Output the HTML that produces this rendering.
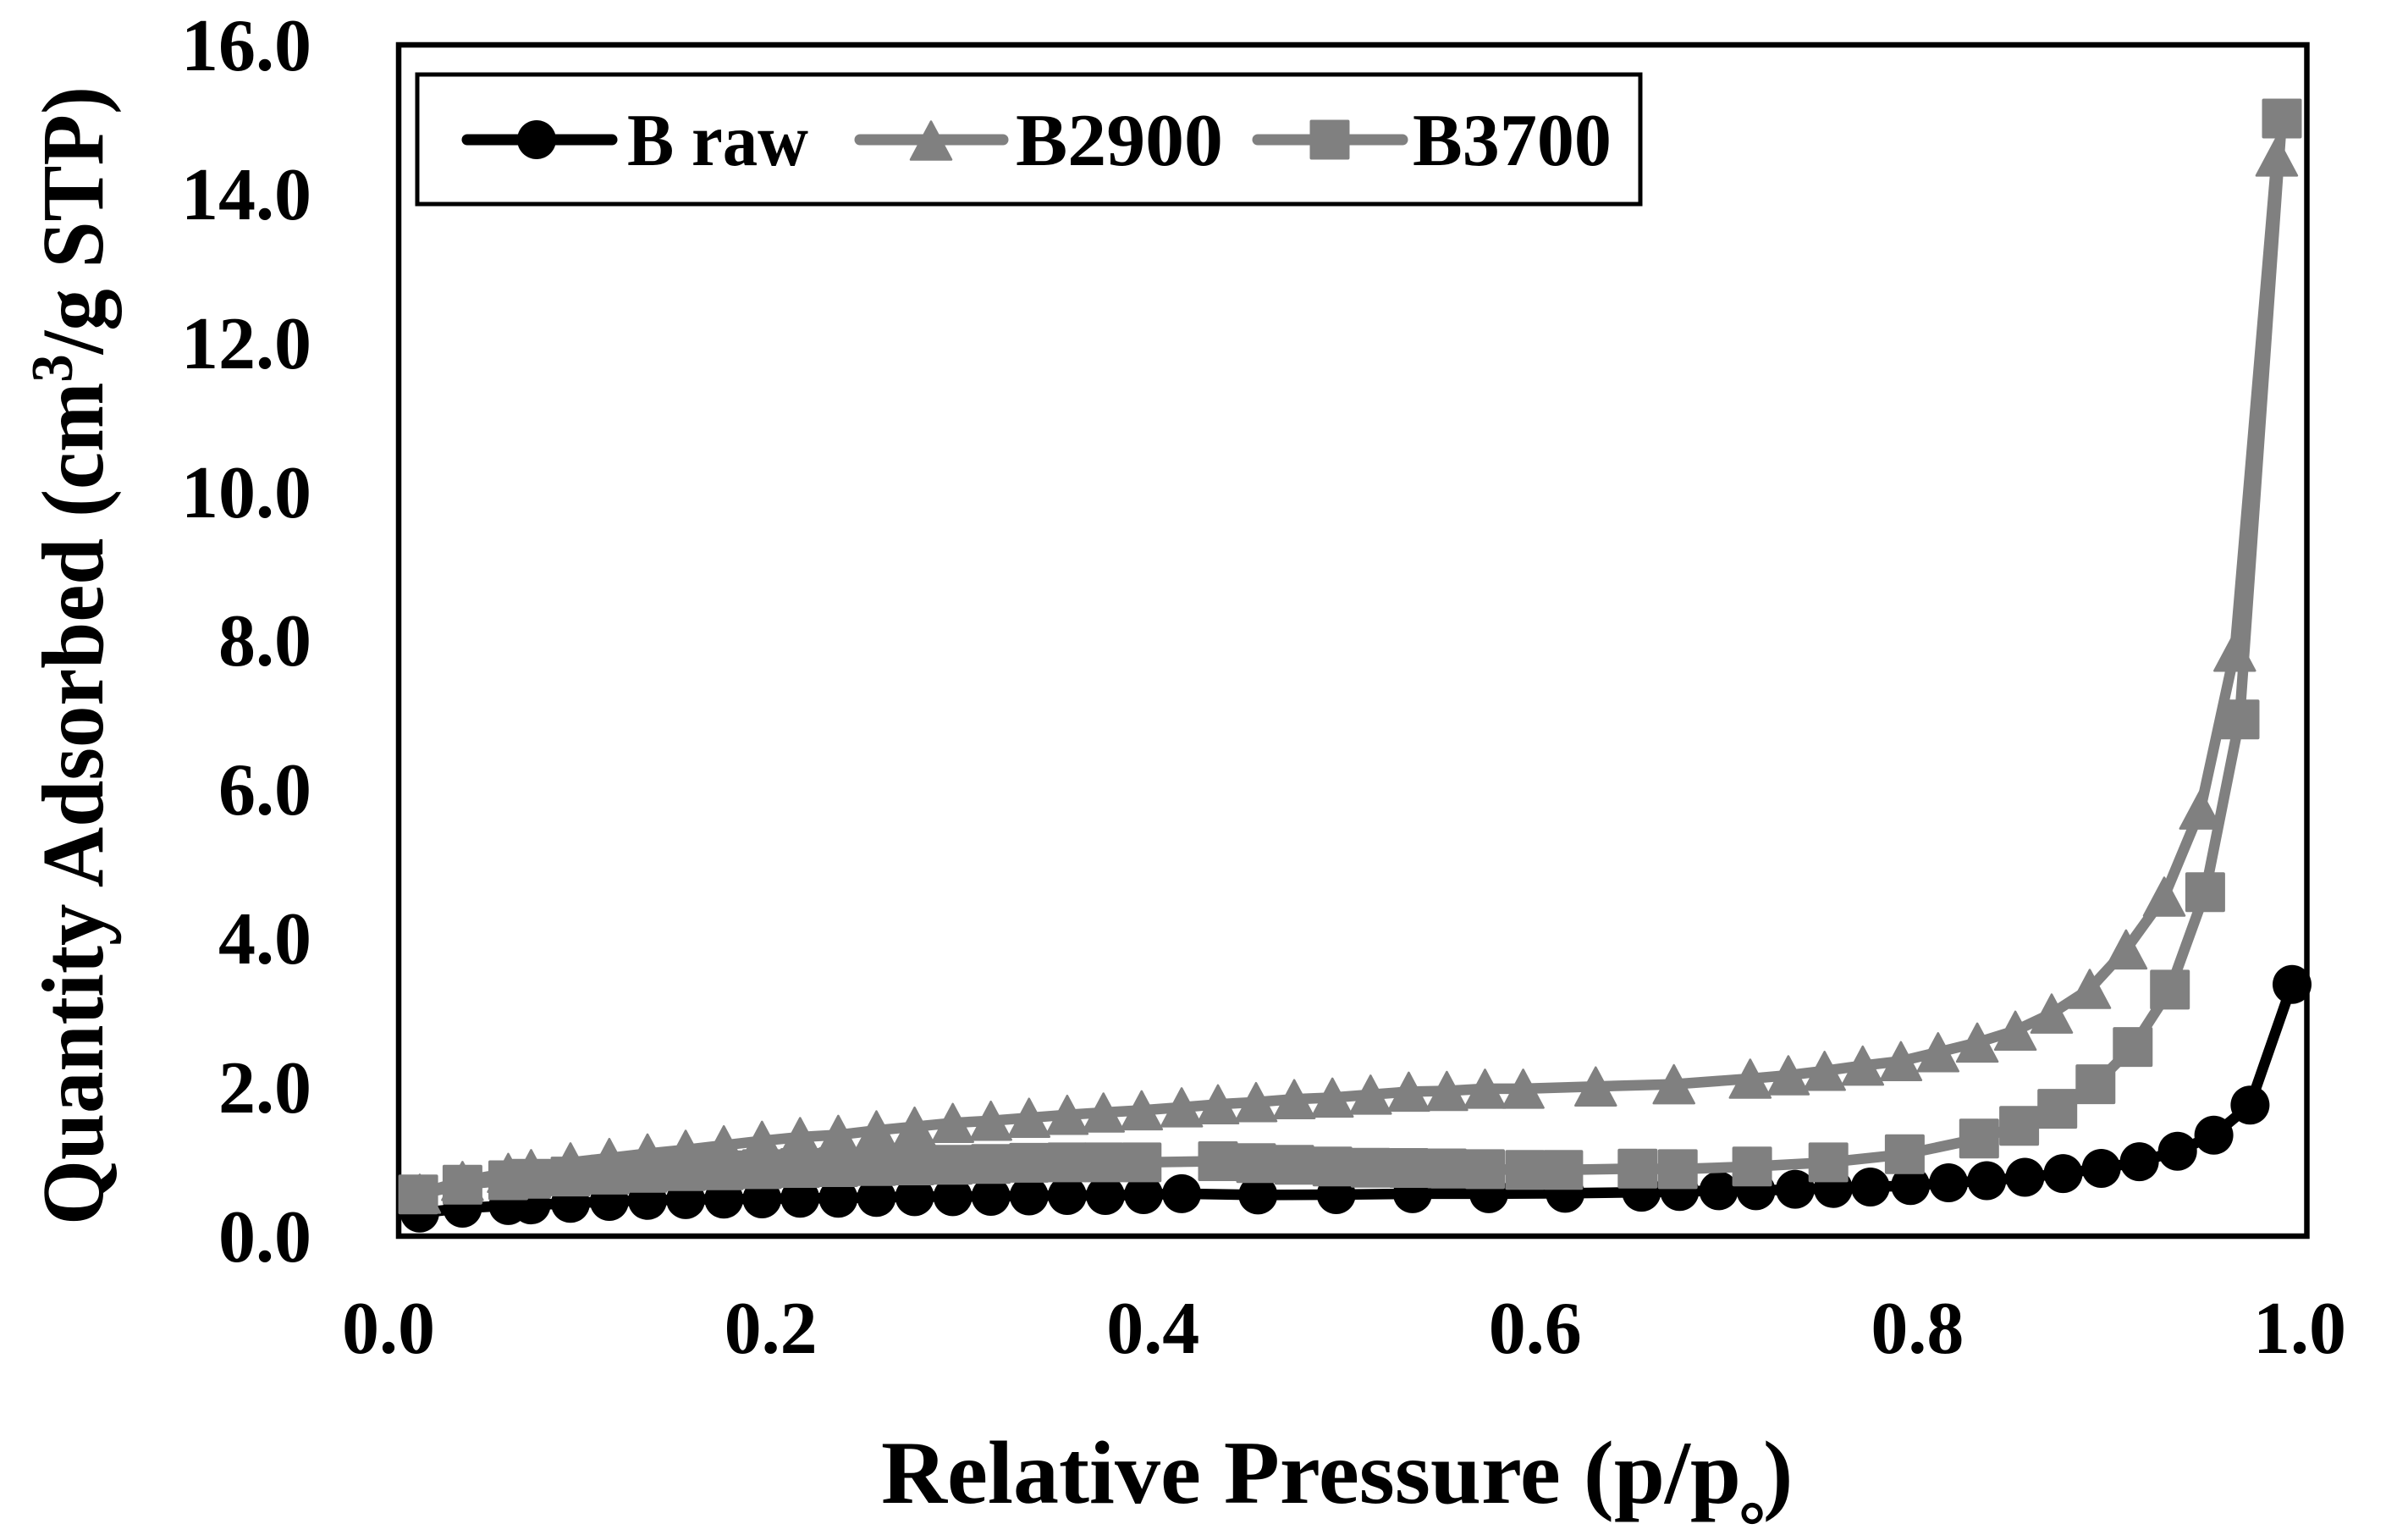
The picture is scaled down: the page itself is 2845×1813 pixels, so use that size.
<!DOCTYPE html>
<html>
<head>
<meta charset="utf-8">
<style>
html,body{margin:0;padding:0;background:#fff;}
svg{display:block;}
text{font-family:"Liberation Serif",serif;font-weight:bold;fill:#000;}
</style>
</head>
<body>
<svg width="2845" height="1813" viewBox="0 0 2845 1813" xmlns="http://www.w3.org/2000/svg">
<defs>
<marker id="mc" markerUnits="userSpaceOnUse" markerWidth="60" markerHeight="60" refX="30" refY="30" overflow="visible">
<circle cx="30" cy="30" r="23" fill="#000"/>
</marker>
<marker id="mt" markerUnits="userSpaceOnUse" markerWidth="60" markerHeight="60" refX="30" refY="30" overflow="visible">
<path d="M30 7.5L54 52.5H6Z" fill="#808080" stroke="#808080" stroke-width="2.5" stroke-linejoin="round"/>
</marker>
<marker id="ms" markerUnits="userSpaceOnUse" markerWidth="60" markerHeight="60" refX="30" refY="30" overflow="visible">
<path d="M8.5 8.5h43v43h-43Z" fill="#808080" stroke="#808080" stroke-width="4" stroke-linejoin="round"/>
</marker>
</defs>
<rect x="0" y="0" width="2845" height="1813" fill="#fff"/>

<g font-size="88" text-anchor="end">
<text x="368" y="83">16.0</text>
<text x="368" y="259">14.0</text>
<text x="368" y="435">12.0</text>
<text x="368" y="611">10.0</text>
<text x="368" y="786">8.0</text>
<text x="368" y="962">6.0</text>
<text x="368" y="1138">4.0</text>
<text x="368" y="1314">2.0</text>
<text x="368" y="1490">0.0</text>
</g>

<g font-size="88" text-anchor="middle">
<text x="459" y="1598">0.0</text>
<text x="910.6" y="1598">0.2</text>
<text x="1362.2" y="1598">0.4</text>
<text x="1813.8" y="1598">0.6</text>
<text x="2265.4" y="1598">0.8</text>
<text x="2717" y="1598">1.0</text>
</g>

<text transform="translate(121,1447) rotate(-90)" font-size="104" textLength="1345" lengthAdjust="spacingAndGlyphs">Quantity Adsorbed (cm<tspan font-size="70" dy="-36">3</tspan><tspan dy="36">/g STP)</tspan></text>

<text x="1041" y="1775" font-size="106" textLength="1016" lengthAdjust="spacingAndGlyphs">Relative Pressure (p/p</text>
<text x="2055" y="1794" font-size="78" style="font-family:'Liberation Serif','Noto Sans CJK JP',sans-serif;font-weight:bold;">。</text>
<text x="2083" y="1775" font-size="106">)</text>

<rect x="471" y="53" width="2254.5" height="1407" fill="none" stroke="#000" stroke-width="6.5"/>

<polyline fill="none" stroke="#000" stroke-width="12.5" stroke-linejoin="round" stroke-linecap="round" marker-start="url(#mc)" marker-mid="url(#mc)" marker-end="url(#mc)" points="495.9,1432.7 546.4,1427.0 600.5,1423.9 627.5,1423.1 674.0,1421.3 719.9,1419.0 765.0,1417.8 810.1,1416.9 855.2,1416.3 900.3,1416.0 945.3,1415.2 990.4,1415.2 1035.5,1414.3 1080.6,1413.4 1125.7,1413.4 1170.7,1413.0 1215.8,1412.5 1260.9,1412.0 1306.0,1412.0 1351.1,1411.0 1396.1,1409.9 1486.3,1411.4 1578.7,1411.0 1668.9,1409.9 1759.0,1409.9 1849.2,1409.4 1939.4,1408.1 1984.4,1407.2 2030.6,1406.4 2074.6,1406.4 2121.0,1404.6 2165.9,1403.7 2209.8,1402.0 2257.2,1400.2 2302.2,1397.0 2347.3,1394.5 2392.4,1390.5 2437.5,1386.1 2482.6,1380.0 2527.6,1372.1 2572.7,1359.7 2615.6,1340.8 2658.4,1305.2 2708.0,1162.8"/>

<polyline fill="none" stroke="#808080" stroke-width="12.5" stroke-linejoin="round" stroke-linecap="round" marker-start="url(#mt)" marker-mid="url(#mt)" marker-end="url(#mt)" points="495.9,1409.9 546.4,1394.9 600.5,1385.3 627.5,1380.9 674.0,1372.9 719.9,1367.7 765.0,1362.4 810.1,1358.0 855.2,1352.7 900.3,1347.4 945.3,1343.0 990.4,1340.4 1035.5,1335.1 1080.6,1330.7 1125.7,1326.3 1170.7,1323.7 1215.8,1320.2 1260.9,1316.7 1303.7,1314.0 1348.8,1311.4 1396.1,1307.9 1439.0,1304.3 1484.0,1301.7 1529.1,1298.2 1574.2,1296.4 1619.3,1292.9 1664.4,1289.4 1709.4,1288.5 1754.5,1285.9 1799.6,1285.9 1885.3,1283.2 1977.7,1280.6 2067.8,1274.0 2112.9,1270.0 2155.7,1264.8 2200.8,1258.6 2245.9,1253.3 2289.8,1242.8 2336.1,1231.4 2381.1,1217.3 2424.0,1197.1 2469.0,1168.0 2511.9,1121.4 2557.0,1059.0 2599.8,956.1 2640.3,769.7 2689.9,184.9"/>

<polyline fill="none" stroke="#808080" stroke-width="12.5" stroke-linejoin="round" stroke-linecap="round" marker-start="url(#ms)" marker-mid="url(#ms)" marker-end="url(#ms)" points="494.1,1410.8 546.4,1399.3 600.5,1394.0 627.5,1392.3 674.0,1389.6 719.9,1387.4 765.0,1385.3 810.1,1383.2 855.2,1382.2 900.3,1380.9 945.3,1379.5 990.4,1378.5 1035.5,1377.3 1080.6,1376.5 1125.7,1375.8 1170.7,1374.7 1215.8,1373.4 1260.9,1372.9 1303.7,1372.9 1348.8,1372.9 1439.0,1371.5 1484.0,1373.8 1529.1,1375.8 1574.2,1377.8 1619.3,1379.3 1664.4,1379.5 1709.4,1380.0 1754.5,1380.9 1801.9,1381.7 1846.9,1381.7 1934.8,1380.3 1982.2,1380.9 2070.1,1377.8 2160.2,1372.9 2250.4,1363.3 2338.3,1344.8 2385.6,1329.8 2430.7,1309.6 2475.8,1280.6 2519.8,1236.6 2563.7,1168.9 2605.4,1053.7 2646.0,849.7 2696.0,140.0"/>

<rect x="493" y="88" width="1445" height="153" fill="#fff" stroke="#000" stroke-width="5"/>
<line x1="552" y1="165" x2="723" y2="165" stroke="#000" stroke-width="13" stroke-linecap="round"/>
<circle cx="634" cy="165" r="23" fill="#000"/>
<text x="741" y="195" font-size="88" textLength="214" lengthAdjust="spacingAndGlyphs">B raw</text>

<line x1="1016" y1="165" x2="1185" y2="165" stroke="#808080" stroke-width="13" stroke-linecap="round"/>
<path d="M1100 143.5L1124 188.5H1076Z" fill="#808080" stroke="#808080" stroke-width="2.5" stroke-linejoin="round"/>
<text x="1200" y="195" font-size="88" textLength="245" lengthAdjust="spacingAndGlyphs">B2900</text>

<line x1="1486" y1="165" x2="1657" y2="165" stroke="#808080" stroke-width="13" stroke-linecap="round"/>
<path d="M1549.5 143.5h43v43h-43Z" fill="#808080" stroke="#808080" stroke-width="4" stroke-linejoin="round"/>
<text x="1669" y="195" font-size="88" textLength="235" lengthAdjust="spacingAndGlyphs">B3700</text>
</svg>
</body>
</html>
